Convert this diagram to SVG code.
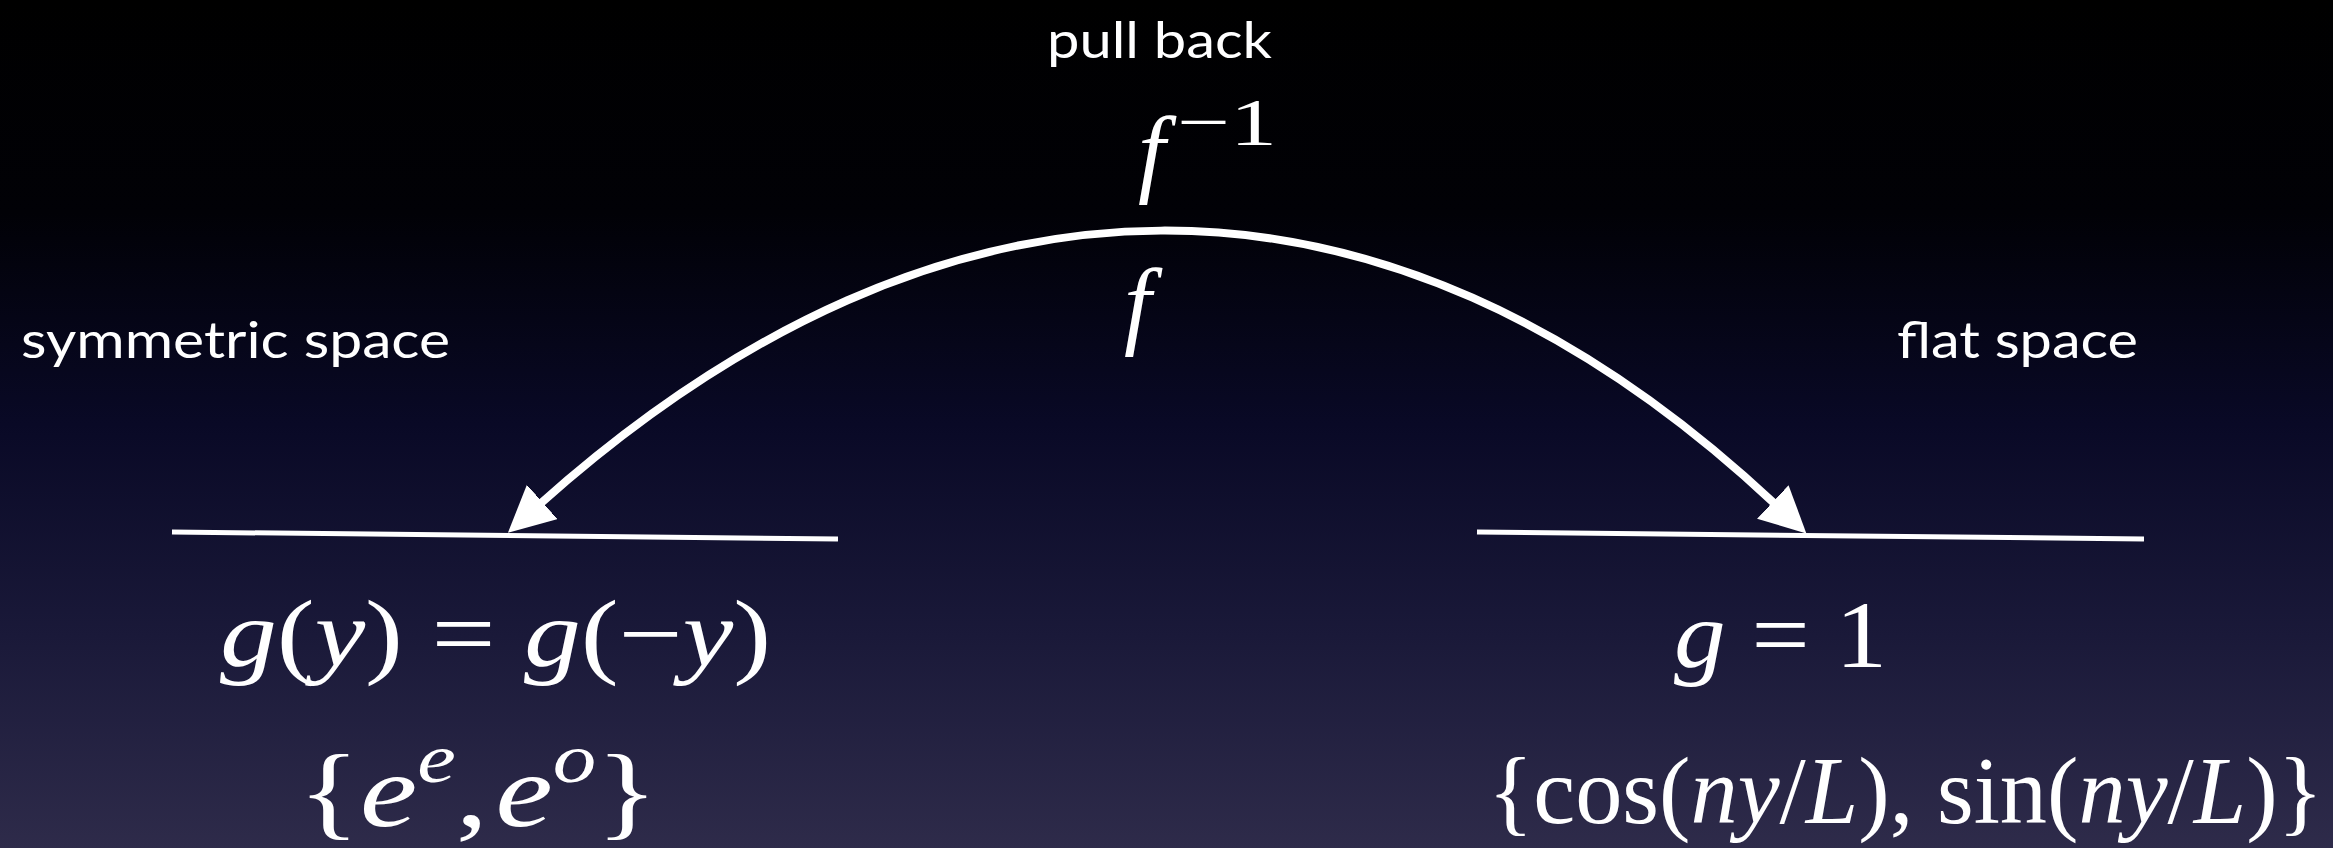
<svg xmlns="http://www.w3.org/2000/svg" width="2333" height="848" viewBox="0 0 2333 848">
<defs>
<linearGradient id="bg" x1="0" y1="0" x2="0" y2="1">
<stop offset="0" stop-color="#000000"/>
<stop offset="0.25" stop-color="#010106"/>
<stop offset="0.5" stop-color="#090926"/>
<stop offset="0.75" stop-color="#1a1939"/>
<stop offset="1" stop-color="#2e2b4a"/>
</linearGradient>
<marker id="ah" markerUnits="userSpaceOnUse" markerWidth="48" markerHeight="48" viewBox="0 0 48 48" refX="3" refY="23" orient="auto-start-reverse">
<path d="M0,0 L46,23 L0,46 Z" fill="#ffffff"/>
</marker>
<style>
.lbl{font-family:Lato,"Open Sans",sans-serif;font-size:50px;fill:#ffffff}
.m{font-family:"Liberation Serif","DejaVu Serif",serif;fill:#ffffff}
.i{font-style:italic}
.base{stroke:#ffffff;stroke-width:5;fill:none}
.conn{stroke:#ffffff;stroke-width:8;fill:none}
</style>
</defs>
<rect x="0" y="0" width="2333" height="848" fill="url(#bg)"/>

<g id="connectors">
<path class="conn" d="M540,504 C943,144 1381,135 1775,504" marker-start="url(#ah)" marker-end="url(#ah)"/>
</g>

<g id="label-pullback">
<text class="lbl" x="1047" y="58" textLength="225" lengthAdjust="spacingAndGlyphs">pull back</text>
</g>
<g id="label-finv">
<text class="m i" x="1138" y="184" font-size="98">f</text>
<text class="m" x="1177" y="145" font-size="68" textLength="100" lengthAdjust="spacingAndGlyphs">−1</text>
</g>
<g id="label-f">
<text class="m i" x="1124" y="336" font-size="98">f</text>
</g>

<g id="node-symmetric">
<text class="lbl" x="21" y="358" textLength="429" lengthAdjust="spacingAndGlyphs">symmetric space</text>
<line class="base" x1="172" y1="532" x2="838" y2="539"/>
<text class="m" x="220" y="666" font-size="95" textLength="551" lengthAdjust="spacingAndGlyphs"><tspan class="i">g</tspan>(<tspan class="i">y</tspan>) = <tspan class="i">g</tspan>(−<tspan class="i">y</tspan>)</text>
<text class="m" x="298" y="826" font-size="104" textLength="360" lengthAdjust="spacingAndGlyphs">{<tspan class="i">e</tspan><tspan class="i" font-size="70" dy="-44">e</tspan><tspan dy="44">,</tspan><tspan class="i" dx="6">e</tspan><tspan class="i" font-size="70" dy="-44">o</tspan><tspan dy="44">}</tspan></text>
</g>

<g id="node-flat">
<text class="lbl" x="1897" y="358" textLength="241" lengthAdjust="spacingAndGlyphs">flat space</text>
<line class="base" x1="1477" y1="532" x2="2144" y2="539"/>
<text class="m" x="1674" y="667" font-size="95" textLength="213" lengthAdjust="spacingAndGlyphs"><tspan class="i">g</tspan> = 1</text>
<text class="m" x="1488" y="823" font-size="95" textLength="835" lengthAdjust="spacingAndGlyphs">{cos(<tspan class="i">ny</tspan>/<tspan class="i">L</tspan>), sin(<tspan class="i">ny</tspan>/<tspan class="i">L</tspan>)}</text>
</g>
</svg>
